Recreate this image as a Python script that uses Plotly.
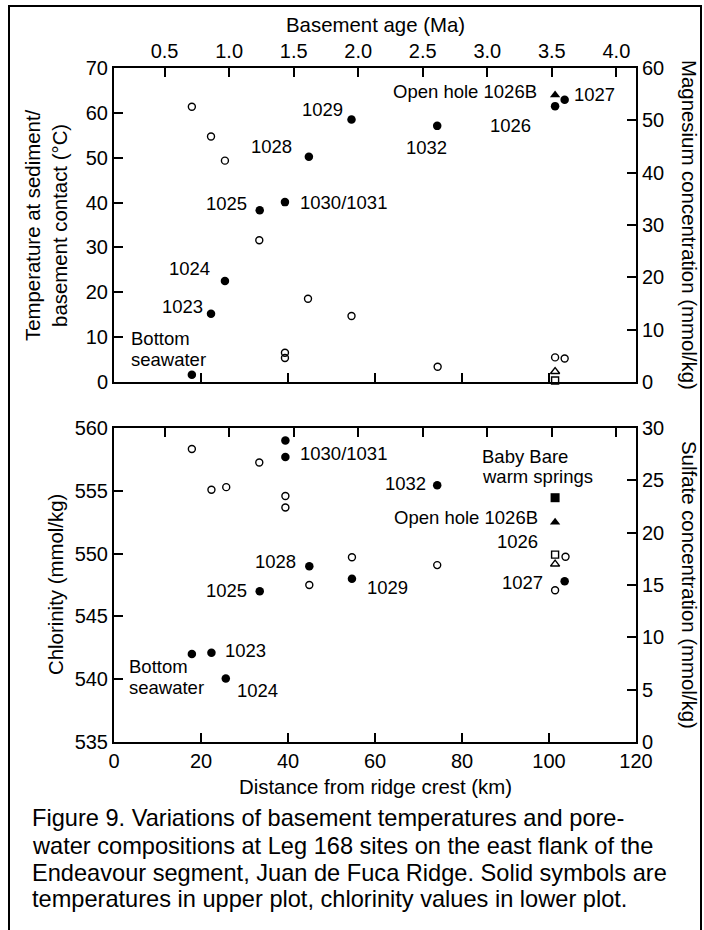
import plotly.graph_objects as go

# ---------------- data ----------------
# Upper panel: basement temperature (solid circles, left axis)
temp_dist = [17.9, 22.3, 25.5, 33.5, 39.3, 44.8, 54.6, 74.3, 101.4, 103.6]
temp_val = [1.6, 15.2, 22.5, 38.3, 40.1, 50.2, 58.5, 57.1, 61.5, 62.9]
temp_1026b_dist = [101.4]
temp_1026b_val = [64.0]

# Upper panel: magnesium (open symbols, right axis)
mg_dist = [17.9, 22.3, 25.5, 33.4, 39.3, 39.3, 44.6, 54.6, 74.4, 101.4, 103.6]
mg_val = [52.6, 46.9, 42.3, 27.1, 5.6, 4.6, 15.9, 12.6, 2.9, 4.7, 4.5]
mg_1026b_dist = [101.4]
mg_1026b_val = [2.0]
mg_babybare_dist = [101.4]
mg_babybare_val = [0.3]

# Lower panel: chlorinity (solid symbols, left axis)
cl_dist = [17.9, 22.4, 25.7, 33.5, 39.4, 39.4, 44.9, 54.7, 74.3, 103.6]
cl_val = [542.0, 542.1, 540.05, 547.0, 559.0, 557.7, 549.0, 548.0, 555.45, 547.8]
cl_babybare_dist = [101.4]
cl_babybare_val = [554.45]
cl_1026b_dist = [101.4]
cl_1026b_val = [552.5]

# Lower panel: sulfate (open symbols, right axis)
so4_dist = [17.9, 22.4, 25.8, 33.4, 39.4, 39.4, 44.9, 54.7, 74.3, 101.4, 103.8]
so4_val = [28.0, 24.1, 24.35, 26.7, 23.5, 22.4, 15.0, 17.65, 16.9, 14.5, 17.7]
so4_babybare_dist = [101.4]
so4_babybare_val = [17.9]
so4_1026b_dist = [101.4]
so4_1026b_val = [17.0]

dist_ticks = [0, 20, 40, 60, 80, 100, 120]
age_ticks = [0.5, 1.0, 1.5, 2.0, 2.5, 3.0, 3.5, 4.0]
age_labels = ["0.5", "1.0", "1.5", "2.0", "2.5", "3.0", "3.5", "4.0"]
age_range = [0.108, 4.152]

# site labels (text, x, y, xanchor)
top_labels = [
    ("Open hole 1026B", 97.7, 64.7, "right"),
    ("1027", 105.4, 64.1, "left"),
    ("1026", 91.2, 57.1, "center"),
    ("1032", 71.8, 52.3, "center"),
    ("1029", 47.9, 60.8, "center"),
    ("1028", 36.1, 52.6, "center"),
    ("1025", 25.9, 39.7, "center"),
    ("1030/1031", 42.4, 40.1, "left"),
    ("1024", 17.3, 25.2, "center"),
    ("1023", 15.7, 16.9, "center"),
    ("Bottom", 3.4, 9.7, "left"),
    ("seawater", 3.4, 5.0, "left"),
]
bottom_labels = [
    ("1030/1031", 42.4, 558.0, "left"),
    ("Baby Bare", 84.2, 557.7, "left"),
    ("warm springs", 84.2, 556.1, "left"),
    ("1032", 67.0, 555.6, "center"),
    ("Open hole 1026B", 98.0, 552.9, "right"),
    ("1026", 92.7, 551.0, "center"),
    ("1028", 37.2, 549.4, "center"),
    ("1029", 62.9, 547.3, "center"),
    ("1025", 25.8, 547.1, "center"),
    ("1027", 93.8, 547.7, "center"),
    ("1023", 30.3, 542.3, "center"),
    ("Bottom", 3.0, 541.05, "left"),
    ("seawater", 3.0, 539.35, "left"),
    ("1024", 33.1, 539.1, "center"),
]

caption_lines = [
    "Figure 9. Variations of basement temperatures and pore-",
    "water compositions at Leg 168 sites on the east flank of the",
    "Endeavour segment, Juan de Fuca Ridge. Solid symbols are",
    "temperatures in upper plot, chlorinity values in lower plot.",
]

# ---------------- layout geometry ----------------
FONT = "Liberation Sans, Arial, sans-serif"
W, H = 704, 930
L, R, T, B = 114, 68, 68, 188
PW = W - L - R
PH = H - T - B


def px(x):
    return (x - L) / PW


def py(y):
    return (H - B - y) / PH


top_dom = [py(382), 1.0]
bot_dom = [0.0, py(428)]

fig = go.Figure()


def add(x, y, xa, ya, symbol, size, open_=False, opacity=1.0):
    m = dict(symbol=symbol, size=size, color="black", opacity=opacity)
    if open_:
        m["line"] = dict(color="black", width=1.4)
    fig.add_trace(go.Scatter(x=x, y=y, mode="markers", marker=m,
                             xaxis=xa, yaxis=ya, showlegend=False,
                             hoverinfo="skip" if opacity == 0 else None,
                             cliponaxis=False))


add(temp_dist, temp_val, "x", "y", "circle", 8.5)
add(temp_1026b_dist, temp_1026b_val, "x", "y", "triangle-up", 9)
add(mg_dist, mg_val, "x", "y2", "circle-open", 7, True)
add(mg_1026b_dist, mg_1026b_val, "x", "y2", "triangle-up-open", 8, True)
add(mg_babybare_dist, mg_babybare_val, "x", "y2", "square-open", 7, True)

add(cl_dist, cl_val, "x3", "y3", "circle", 8.5)
add(cl_babybare_dist, cl_babybare_val, "x3", "y3", "square", 9)
add(cl_1026b_dist, cl_1026b_val, "x3", "y3", "triangle-up", 9)
add(so4_dist, so4_val, "x3", "y4", "circle-open", 7, True)
add(so4_babybare_dist, so4_babybare_val, "x3", "y4", "square-open", 7, True)
add(so4_1026b_dist, so4_1026b_val, "x3", "y4", "triangle-up-open", 8, True)

# invisible helpers so the basement-age axes get drawn
add(age_range, [0, 0], "x2", "y", "circle", 1, opacity=0)
add(age_range, [535, 535], "x4", "y3", "circle", 1, opacity=0)

tickfont = dict(family=FONT, size=20, color="black")
common = dict(showline=True, linewidth=2, linecolor="black", mirror=False,
              ticks="inside", ticklen=9, tickwidth=2, tickcolor="black",
              showgrid=False, zeroline=False, tickfont=tickfont, fixedrange=True)

fig.update_layout(
    width=W, height=H,
    margin=dict(l=L, r=R, t=T, b=B, pad=0),
    paper_bgcolor="white", plot_bgcolor="white",
    font=dict(family=FONT, size=18, color="black"),
    xaxis=dict(domain=[0, 1], anchor="y", range=[0, 120], tickvals=dist_ticks,
               showticklabels=False, **common),
    xaxis2=dict(overlaying="x", anchor="y", side="top", range=age_range,
                tickvals=age_ticks, ticktext=age_labels, **common),
    yaxis=dict(domain=top_dom, anchor="x", range=[0, 70], dtick=10, **common),
    yaxis2=dict(overlaying="y", anchor="x", side="right", range=[0, 60], dtick=10, **common),
    xaxis3=dict(domain=[0, 1], anchor="y3", range=[0, 120], tickvals=dist_ticks, **common),
    xaxis4=dict(overlaying="x3", anchor="y3", side="top", range=age_range,
                tickvals=age_ticks, showticklabels=False, **common),
    yaxis3=dict(domain=bot_dom, anchor="x3", range=[535, 560], dtick=5, **common),
    yaxis4=dict(overlaying="y3", anchor="x3", side="right", range=[0, 30], dtick=5, **common),
    showlegend=False,
)

label_font = dict(family=FONT, size=18.5, color="black")
ann = []
for text, x, y, xa in top_labels:
    ann.append(dict(text=text, x=x, y=y, xref="x", yref="y", xanchor=xa,
                    yanchor="middle", showarrow=False, font=label_font))
for text, x, y, xa in bottom_labels:
    ann.append(dict(text=text, x=x, y=y, xref="x3", yref="y3", xanchor=xa,
                    yanchor="middle", showarrow=False, font=label_font))

title_font = dict(family=FONT, size=20.4, color="black")
ann += [
    dict(text="Basement age (Ma)", x=px(375), y=py(25), xref="paper", yref="paper",
         xanchor="center", yanchor="middle", showarrow=False, font=title_font),
    dict(text="Distance from ridge crest (km)", x=px(375), y=py(787), xref="paper",
         yref="paper", xanchor="center", yanchor="middle", showarrow=False, font=title_font),
    dict(text="Temperature at sediment/<br>basement contact (°C)", x=px(46), y=py(225),
         xref="paper", yref="paper", xanchor="center", yanchor="middle", textangle=-90,
         showarrow=False, font=title_font),
    dict(text="Magnesium concentration (mmol/kg)", x=px(689), y=py(225),
         xref="paper", yref="paper", xanchor="center", yanchor="middle", textangle=90,
         showarrow=False, font=title_font),
    dict(text="Chlorinity (mmol/kg)", x=px(56), y=py(585),
         xref="paper", yref="paper", xanchor="center", yanchor="middle", textangle=-90,
         showarrow=False, font=title_font),
    dict(text="Sulfate concentration (mmol/kg)", x=px(689), y=py(585),
         xref="paper", yref="paper", xanchor="center", yanchor="middle", textangle=90,
         showarrow=False, font=title_font),
]
cap_y = [818, 846, 873, 899]
for line, yy in zip(caption_lines, cap_y):
    ann.append(dict(text=line, x=px(30), y=py(yy), xref="paper", yref="paper",
                    xanchor="left", yanchor="middle", showarrow=False,
                    font=dict(family=FONT, size=23.6, color="black")))

fig.update_layout(annotations=ann)

# outer frame
fig.add_shape(type="rect", xref="paper", yref="paper",
              x0=px(9), x1=px(701), y0=py(945), y1=py(6),
              line=dict(color="black", width=2), fillcolor="rgba(0,0,0,0)", layer="below")

fig.write_html("out.html",
               config={"displayModeBar": False, "staticPlot": True},
               post_script="document.body.style.margin='0px';document.body.style.overflow='hidden';")
